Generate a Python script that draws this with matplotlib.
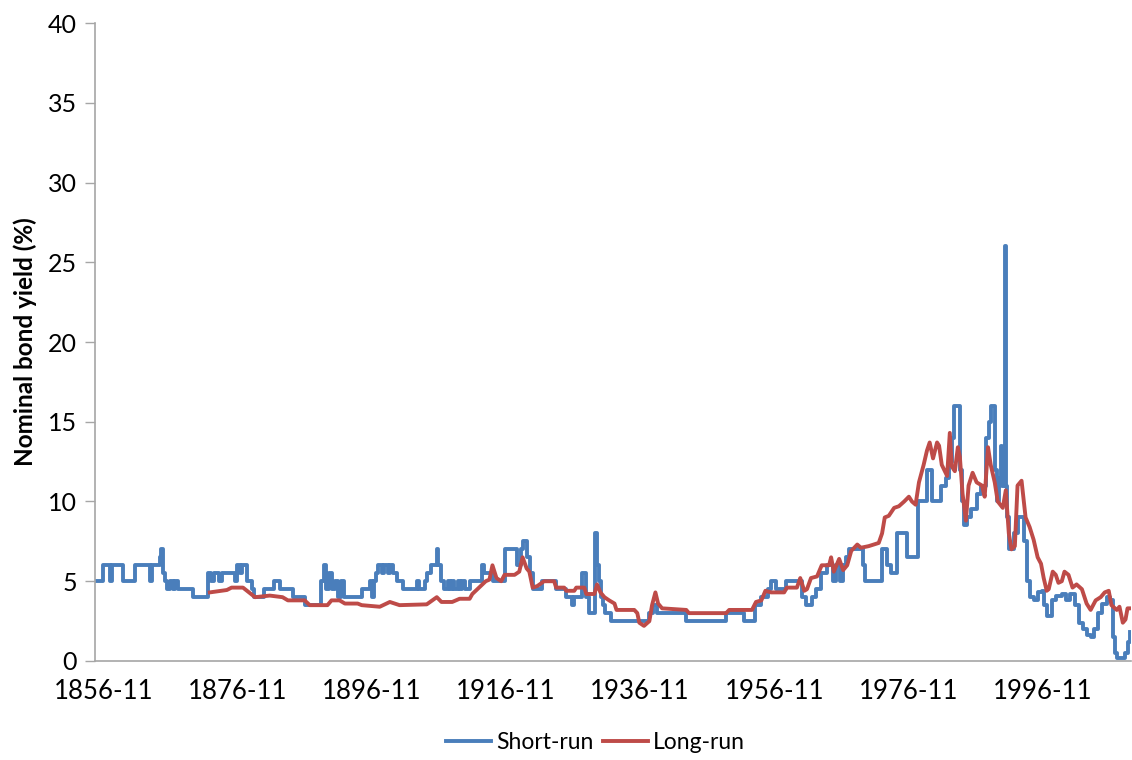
import numpy as np
import matplotlib
matplotlib.use("Agg")
import matplotlib.pyplot as plt

plt.rcParams['font.family'] = ['Lato', 'DejaVu Sans']

# short-run yield, step changes (year, %)
short_years = [
    1856.83, 1858.0, 1859.1, 1859.4, 1861.0, 1862.8, 1865.0, 1865.4, 1866.5, 1866.7,
    1866.9, 1867.2, 1867.6, 1868.0, 1868.4, 1868.8, 1869.2, 1871.4, 1873.7, 1874.2,
    1874.6, 1875.3, 1875.7, 1877.7, 1878.0, 1878.4, 1878.8, 1879.5, 1880.2, 1880.5,
    1882.1, 1883.5, 1884.4, 1886.3, 1888.1, 1890.6, 1891.0, 1891.3, 1891.7, 1892.2,
    1892.6, 1893.0, 1893.5, 1893.9, 1896.7, 1897.8, 1898.2, 1898.5, 1898.8, 1899.0,
    1899.7, 1900.0, 1900.5, 1900.8, 1901.2, 1901.8, 1902.7, 1904.9, 1905.2, 1906.0,
    1906.4, 1907.0, 1907.8, 1908.0, 1908.5, 1908.9, 1909.4, 1909.7, 1910.1, 1910.4,
    1910.9, 1911.2, 1911.6, 1912.0, 1912.7, 1914.6, 1914.9, 1916.2, 1917.9, 1919.7,
    1920.4, 1920.7, 1921.3, 1921.7, 1922.1, 1923.5, 1925.6, 1927.1, 1928.0, 1928.3,
    1929.5, 1930.1, 1930.5, 1931.4, 1931.7, 1932.0, 1932.3, 1932.6, 1932.9, 1933.8,
    1939.5, 1940.0, 1940.7, 1945.0, 1951.0, 1953.6, 1955.3, 1956.2, 1957.2, 1957.6,
    1958.4, 1959.9, 1962.3, 1962.9, 1963.7, 1964.4, 1965.1, 1966.0, 1966.9, 1967.4,
    1967.9, 1968.3, 1968.8, 1969.3, 1971.3, 1971.7, 1974.2, 1975.0, 1975.6, 1976.4,
    1977.9, 1979.5, 1980.9, 1981.6, 1983.0, 1983.7, 1984.2, 1984.6, 1984.9, 1985.8,
    1986.1, 1986.4, 1986.8, 1987.4, 1988.3, 1988.9, 1989.7, 1990.1, 1990.5, 1991.0,
    1991.3, 1991.7, 1991.9, 1992.1, 1992.5, 1992.7, 1992.9, 1993.2, 1993.9, 1994.5,
    1995.4, 1995.8, 1996.2, 1996.8, 1997.5, 1998.0, 1998.4, 1998.8, 1999.5, 2000.2,
    2001.0, 2001.6, 2002.2, 2002.9, 2003.6, 2004.2, 2004.8, 2005.3, 2005.8, 2006.4,
    2007.0, 2007.7, 2008.2, 2008.6, 2008.9, 2009.2, 2010.4, 2010.8, 2011.1,
]
short_vals = [
    5, 6, 5, 6, 5, 6, 5, 6, 6.5, 7,
    5.5, 5, 4.5, 5, 4.5, 5, 4.5, 4, 5.5, 5,
    5.5, 5, 5.5, 5, 6, 5.5, 6, 5, 4.5, 4,
    4.5, 5, 4.5, 4, 3.5, 5, 6, 4.5, 5.5, 4.5,
    5, 4, 5, 4, 4.5, 5, 4, 5, 5.5, 6,
    5.5, 6, 5.5, 6, 5.5, 5, 4.5, 5, 4.5, 5,
    5.5, 6, 7, 6, 5, 4.5, 5, 4.5, 5, 4.5,
    5, 4.5, 5, 4.5, 5, 6, 5.5, 5, 7, 6,
    7, 7.5, 6.5, 5.5, 4.5, 5, 4.5, 4, 3.5, 4,
    5.5, 4, 3, 8, 6, 5, 4, 3.5, 3, 2.5,
    3, 3.5, 3, 2.5, 3, 2.5, 3.5, 4, 4.5, 5,
    4.5, 5, 4, 3.5, 4, 4.5, 5.5, 6, 5, 6,
    5, 6, 6.5, 7, 6, 5, 7, 6, 5.5, 8,
    6.5, 10, 12, 10, 11, 11.5, 12.5, 14, 16, 12,
    10, 8.5, 9, 9.5, 10.5, 11, 14, 15, 16, 12,
    10, 11.5, 13.5, 11, 26, 11, 9, 7, 8, 9,
    7.5, 5, 4, 3.8, 4.3, 4.4, 3.5, 2.8, 3.8, 4.1,
    4.2, 3.8, 4.2, 3.5, 2.4, 2.0, 1.6, 1.5, 2.0, 3.0,
    3.6, 4.0, 3.8, 1.5, 0.5, 0.2, 0.5, 1.2, 1.8,
]

# long-run yield (year, %)
long_years = [
    1873.96, 1876.5, 1877.2, 1878.9, 1879.5, 1880.7, 1882.9, 1884.8, 1885.6, 1888.1,
    1888.85, 1891.5, 1892.1, 1893.3, 1894.1, 1896.0, 1896.6, 1899.3, 1900.8, 1902.25,
    1906.3, 1907.8, 1908.5, 1910.1, 1911.2, 1912.7, 1913.1, 1914.6, 1915.1, 1915.65,
    1916.1, 1916.7, 1917.4, 1917.9, 1919.4, 1920.1, 1920.6, 1921.2, 1921.6, 1922.1,
    1922.8, 1923.8, 1925.3, 1925.6, 1926.8, 1927.1, 1928.3, 1928.6, 1929.8, 1930.1,
    1931.3, 1931.7, 1932.2, 1932.8, 1933.5, 1934.3, 1934.6, 1937.25, 1937.7, 1938.0,
    1938.7, 1939.5, 1939.9, 1940.4, 1940.8, 1941.4, 1945.0, 1945.4, 1950.95, 1951.4,
    1954.8, 1955.4, 1956.2, 1956.8, 1957.65, 1959.6, 1960.0, 1961.5, 1962.0, 1962.6,
    1963.0, 1963.6, 1964.5, 1965.2, 1966.3, 1966.6, 1967.0, 1967.8, 1968.4, 1969.0,
    1969.6, 1970.5, 1971.05, 1972.2, 1973.7, 1974.2, 1974.6, 1975.2, 1976.0, 1976.7,
    1977.5, 1978.2, 1978.65, 1979.2, 1979.7, 1980.4, 1980.9, 1981.3, 1981.8, 1982.4,
    1982.7, 1983.1, 1983.9, 1984.3, 1984.6, 1985.05, 1985.5, 1985.8, 1986.2, 1986.7,
    1987.1, 1987.7, 1988.3, 1989.1, 1989.5, 1990.0, 1990.4, 1991.0, 1991.45, 1992.2,
    1992.65, 1993.1, 1993.5, 1994.0, 1994.4, 1995.0, 1995.6, 1996.2, 1996.8, 1997.4,
    1997.9, 1998.3, 1998.75, 1999.05, 1999.65, 2000.1, 2000.5, 2001.0, 2001.4, 2002.0,
    2002.6, 2003.2, 2004.0, 2004.7, 2005.3, 2006.05, 2006.8, 2007.4, 2008.0, 2008.4,
    2009.2, 2009.6, 2010.1, 2010.5, 2010.8, 2011.1,
]
long_vals = [
    4.3, 4.45, 4.6, 4.6, 4.4, 4.0, 4.1, 4.0, 3.8, 3.8,
    3.5, 3.5, 3.8, 3.8, 3.6, 3.6, 3.5, 3.4, 3.7, 3.5,
    3.55, 4.0, 3.7, 3.7, 3.9, 3.9, 4.2, 4.8, 5.0, 5.1,
    6.0, 5.2, 5.0, 5.4, 5.4, 5.6, 6.5, 5.8, 5.6, 4.6,
    4.7, 5.0, 5.0, 4.6, 4.6, 4.4, 4.4, 4.6, 4.6, 4.2,
    4.2, 4.8, 4.3, 4.0, 3.8, 3.6, 3.2, 3.2, 3.0, 2.4,
    2.2, 2.5, 3.5, 4.3, 3.6, 3.3, 3.2, 3.0, 3.0, 3.2,
    3.2, 3.7, 3.8, 4.4, 4.3, 4.3, 4.6, 4.6, 5.2, 4.4,
    4.5, 5.2, 5.3, 6.0, 6.0, 6.5, 5.6, 6.4, 5.7, 6.0,
    6.9, 7.3, 7.1, 7.2, 7.4, 8.0, 9.0, 9.1, 9.6, 9.7,
    10.0, 10.3, 10.0, 9.8, 11.2, 12.3, 13.2, 13.7, 12.7, 13.7,
    13.5, 12.3, 11.6, 14.3, 12.2, 11.9, 13.4, 12.8, 10.5, 8.8,
    11.0, 11.8, 11.2, 11.0, 10.3, 13.4, 12.3, 11.2, 10.0, 9.6,
    10.7, 8.0, 7.0, 7.2, 11.0, 11.3, 9.0, 8.4, 7.6, 6.5,
    6.1, 5.2, 4.4, 4.5, 5.6, 5.4, 4.9, 5.0, 5.6, 5.4,
    4.6, 4.8, 4.5, 3.6, 3.2, 3.8, 4.0, 4.3, 4.4, 3.5,
    3.2, 3.4, 2.4, 2.6, 3.3, 3.3,
]

tick_years = [1856, 1876, 1896, 1916, 1936, 1956, 1976, 1996]
y_ticks = [0, 5, 10, 15, 20, 25, 30, 35, 40]

BLUE = "#4A7EBB"
RED = "#BE4B48"
GREY = "#A6A6A6"

fig = plt.figure(figsize=(11.32, 7.6), dpi=100)
ax = fig.add_axes([0.0839, 0.1303, 0.9151, 0.8394])

ax.plot(short_years, short_vals, color=BLUE, lw=2.8, drawstyle="steps-post",
        label="Short-run")
ax.plot(long_years, long_vals, color=RED, lw=2.8, label="Long-run")

ax.set_xlim(1856.83, 2011.3)
ax.set_ylim(0, 40)
ax.set_yticks(y_ticks)
ax.set_yticklabels([str(v) for v in y_ticks], fontsize=18)
ax.set_xticks([y + 11 / 12 + 1.2 for y in tick_years])
ax.set_xticklabels([f"{y}-11" for y in tick_years], fontsize=18.5)
ax.tick_params(axis="x", length=0, pad=13)
ax.tick_params(axis="y", length=7, color=GREY, width=1, pad=6)

for side in ["top", "right"]:
    ax.spines[side].set_visible(False)
for side in ["left", "bottom"]:
    ax.spines[side].set_color(GREY)
    ax.spines[side].set_linewidth(1.2)

ax.set_ylabel("Nominal bond yield (%)", fontsize=17.5, fontweight="bold", labelpad=8)

ax.legend(loc="upper center", bbox_to_anchor=(0.483, -0.079), ncol=2, frameon=False,
          fontsize=16.5, handlelength=2.0, columnspacing=0.4, handletextpad=0.2)

fig.savefig("out.png", dpi=100)
